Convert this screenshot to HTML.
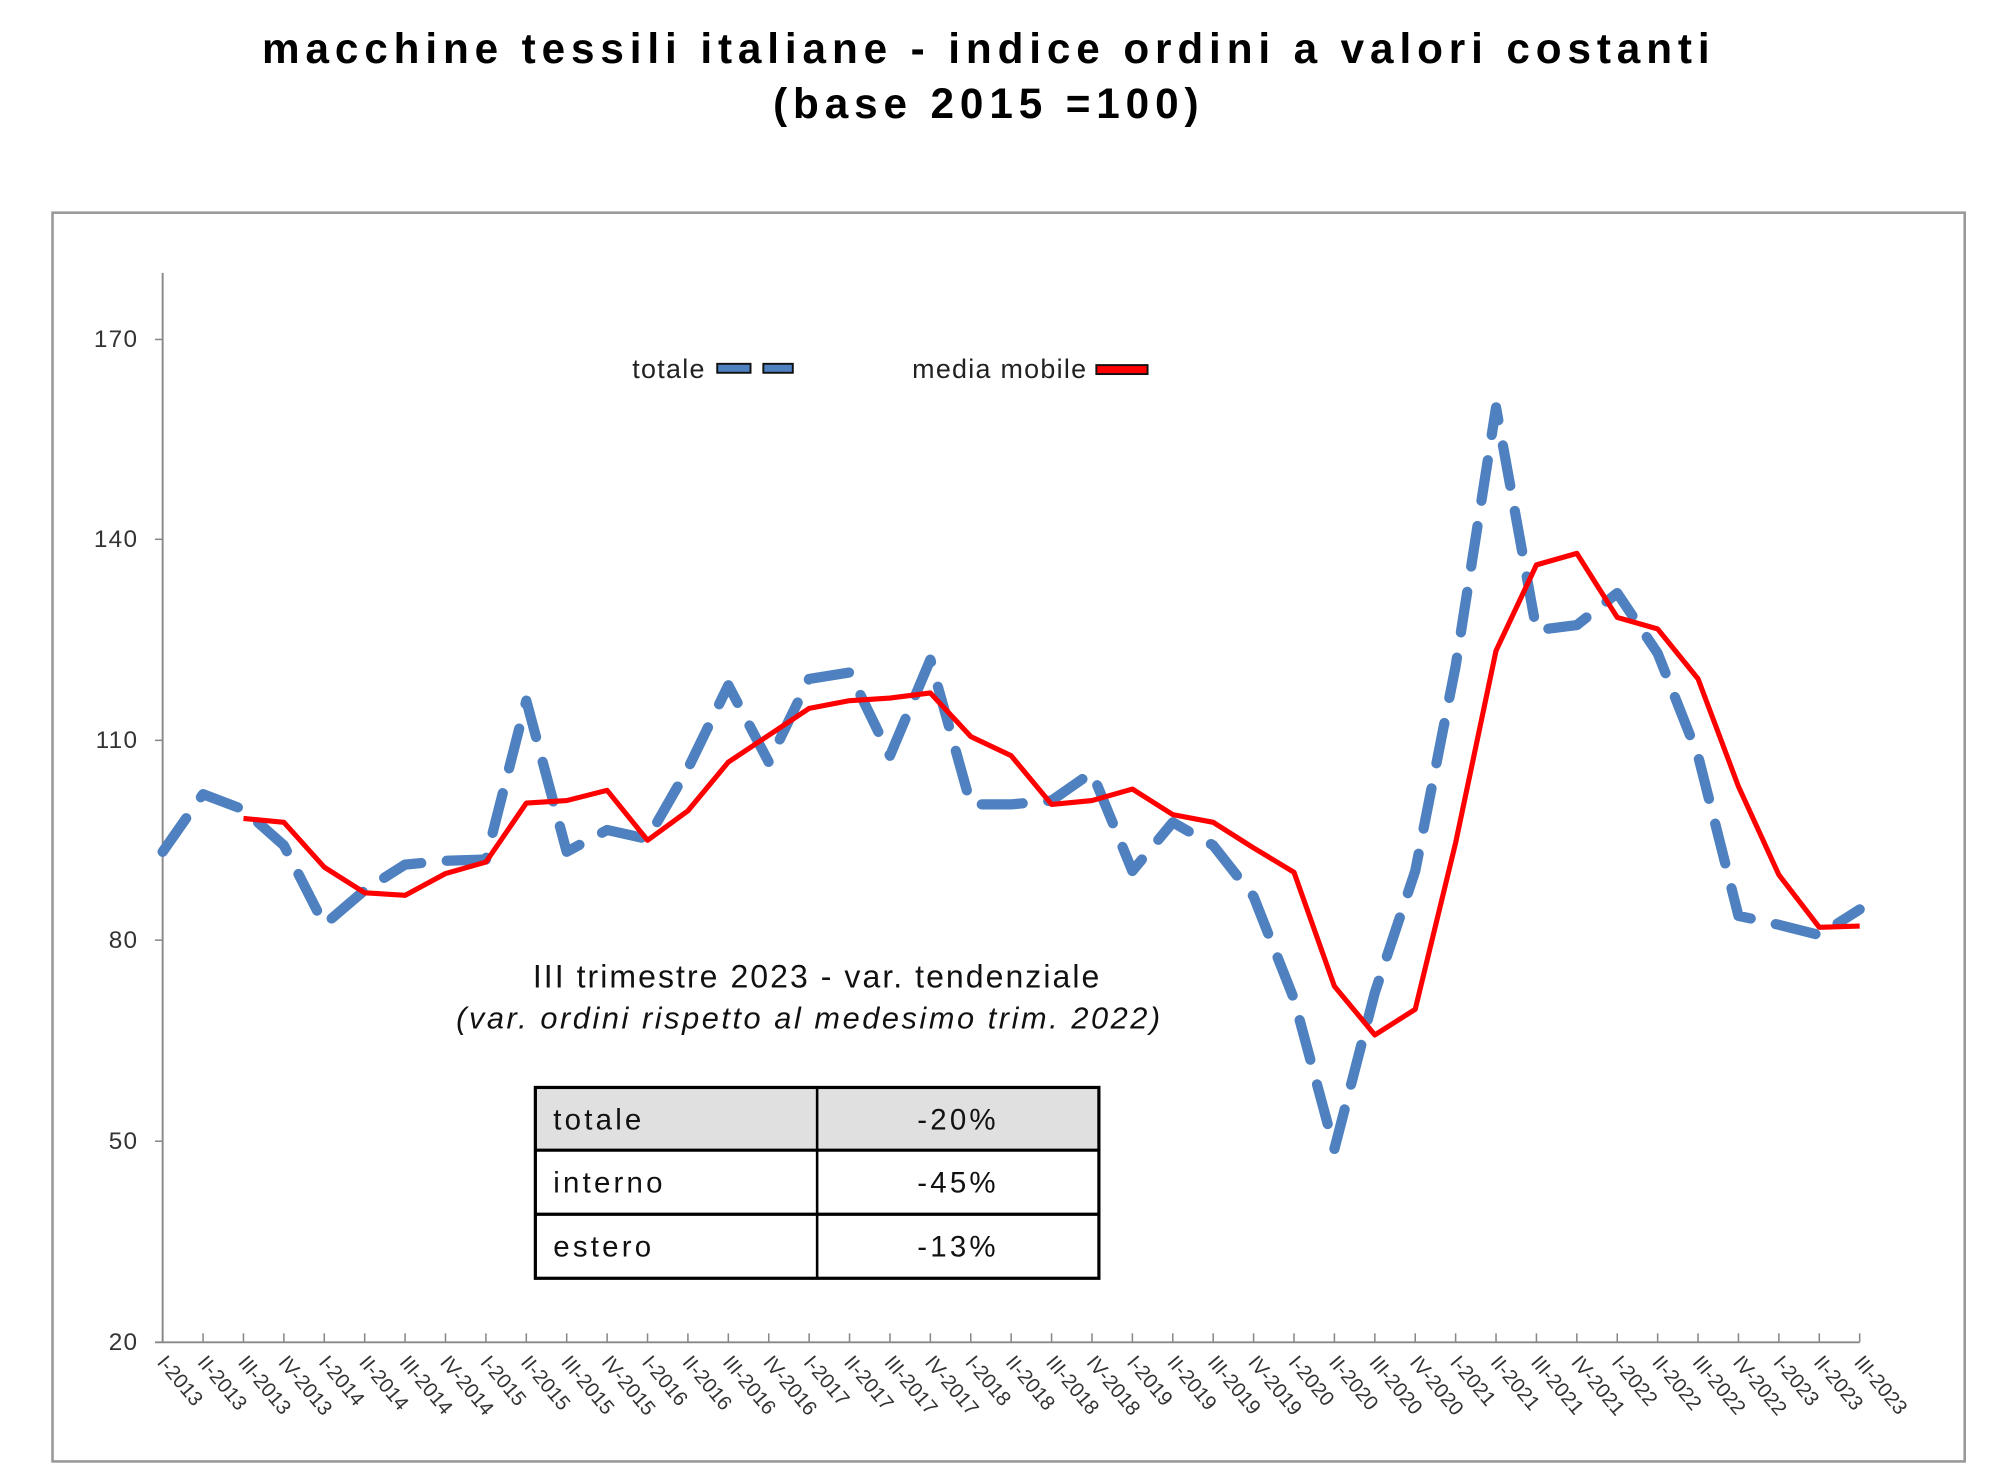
<!DOCTYPE html>
<html><head><meta charset="utf-8"><style>
html,body{margin:0;padding:0;background:#fff;}
svg{display:block;}
text{font-family:"Liberation Sans",sans-serif;}
</style></head><body>
<svg width="1998" height="1482" viewBox="0 0 1560 1157" xmlns="http://www.w3.org/2000/svg">
<rect width="1560" height="1157" fill="#fff"/>
<text x="772" y="49" text-anchor="middle" font-size="33" font-weight="bold" letter-spacing="4.6">macchine tessili italiane - indice ordini a valori costanti</text>
<text x="772" y="92" text-anchor="middle" font-size="33" font-weight="bold" letter-spacing="4.6">(base 2015 =100)</text>
<rect x="41" y="166" width="1493" height="975" fill="none" stroke="#999" stroke-width="2"/>
<line x1="127" y1="213" x2="127" y2="1048" stroke="#888" stroke-width="1.5"/>
<line x1="121" y1="1048" x2="1452" y2="1048" stroke="#888" stroke-width="1.5"/>
<g stroke="#888" stroke-width="1.2">
<line x1="121" y1="265" x2="127" y2="265"/><line x1="121" y1="421" x2="127" y2="421"/><line x1="121" y1="578" x2="127" y2="578"/><line x1="121" y1="734" x2="127" y2="734"/><line x1="121" y1="891" x2="127" y2="891"/>
</g>
<g font-size="19" fill="#333" text-anchor="end" letter-spacing="1">
<text x="108" y="271">170</text><text x="108" y="427">140</text><text x="108" y="584">110</text><text x="108" y="740">80</text><text x="108" y="897">50</text><text x="108" y="1054">20</text>
</g>
<g id="ticks" stroke="#888" stroke-width="1.2"></g>
<g id="xl" font-size="16" fill="#333"></g>
<polyline id="blue" fill="none" stroke="#4f81c0" stroke-width="8" stroke-dasharray="32 20" stroke-linecap="round" stroke-linejoin="round"/>
<polyline id="red" fill="none" stroke="#ff0000" stroke-width="4" stroke-linejoin="round"/>
<text x="551" y="295" text-anchor="end" font-size="21" fill="#222" letter-spacing="1">totale</text>
<rect x="560" y="284" width="26" height="7" fill="#4f81c0" stroke="#111" stroke-width="1.5"/>
<rect x="596" y="284" width="23" height="7" fill="#4f81c0" stroke="#111" stroke-width="1.5"/>
<text x="849" y="295" text-anchor="end" font-size="21" fill="#222" letter-spacing="1">media mobile</text>
<rect x="856" y="285" width="40" height="7" fill="#f00" stroke="#111" stroke-width="1.5"/>
<text x="638" y="771" text-anchor="middle" font-size="25" fill="#111" letter-spacing="1.6">III trimestre 2023 - var. tendenziale</text>
<text x="632" y="803" text-anchor="middle" font-size="24" font-style="italic" fill="#111" letter-spacing="2">(var. ordini rispetto al medesimo trim. 2022)</text>
<rect x="418" y="849" width="440" height="49" fill="#e0e0e0"/>
<g stroke="#000" fill="none">
<rect x="418" y="849" width="440" height="149" stroke-width="2.5"/>
<line x1="418" y1="898" x2="858" y2="898" stroke-width="2.5"/>
<line x1="418" y1="948" x2="858" y2="948" stroke-width="2.5"/>
<line x1="638" y1="849" x2="638" y2="998" stroke-width="2"/>
</g>
<g font-size="23" fill="#111" letter-spacing="2.5">
<text x="432" y="882">totale</text><text x="748" y="882" text-anchor="middle">-20%</text>
<text x="432" y="931">interno</text><text x="748" y="931" text-anchor="middle">-45%</text>
<text x="432" y="981">estero</text><text x="748" y="981" text-anchor="middle">-13%</text>
</g>
<script>
var NS="http://www.w3.org/2000/svg";
var step=(1452-127)/42;
var blue=[665,620,632,660,722,695,675,672,671,547,665,648,655,600,535,595,530,525,590,515,628,628,625,603,680,642,660,700,780,897,775,680,520,318,492,488,463,510,590,715,722,730,710];
var red=[null,null,639,642,677,697,699,682,673,627,625,617,656,633,595,574,553,547,545,541,575,590,628,625,616,636,642,662,681,770,808,788,658,508,441,432,482,491,530,614,683,724,723];
var bp=[],rp=[];
for(var i=0;i<43;i++){var x=127+step*i;bp.push(x+","+blue[i]);if(red[i]!=null)rp.push(x+","+red[i]);}
document.getElementById("blue").setAttribute("points",bp.join(" "));
document.getElementById("red").setAttribute("points",rp.join(" "));
var rom=["I","II","III","IV"];var tk=document.getElementById("ticks"),xl=document.getElementById("xl");
for(var i=0;i<43;i++){var x=127+step*i;
var l=document.createElementNS(NS,"line");l.setAttribute("x1",x);l.setAttribute("x2",x);l.setAttribute("y1",1041);l.setAttribute("y2",1048);tk.appendChild(l);
var t=document.createElementNS(NS,"text");t.setAttribute("transform","translate("+(x-5)+",1064) rotate(50)");
t.textContent=rom[i%4]+"-"+(2013+Math.floor(i/4));xl.appendChild(t);}
</script>
</svg>
</body></html>
